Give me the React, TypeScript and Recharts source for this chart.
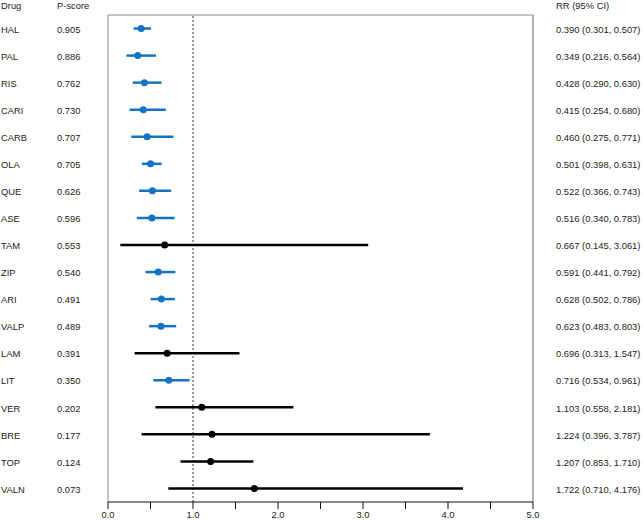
import {
  ScatterChart,
  Scatter,
  XAxis,
  YAxis,
  ErrorBar,
  ReferenceLine,
} from 'recharts'

const drugs = ['HAL', 'PAL', 'RIS', 'CARI', 'CARB', 'OLA', 'QUE', 'ASE', 'TAM', 'ZIP', 'ARI', 'VALP', 'LAM', 'LIT', 'VER', 'BRE', 'TOP', 'VALN']
const pScores = [0.905, 0.886, 0.762, 0.73, 0.707, 0.705, 0.626, 0.596, 0.553, 0.54, 0.491, 0.489, 0.391, 0.35, 0.202, 0.177, 0.124, 0.073]
const rr = [0.39, 0.349, 0.428, 0.415, 0.46, 0.501, 0.522, 0.516, 0.667, 0.591, 0.628, 0.623, 0.696, 0.716, 1.103, 1.224, 1.207, 1.722]
const ciLow = [0.301, 0.216, 0.29, 0.254, 0.275, 0.398, 0.366, 0.34, 0.145, 0.441, 0.502, 0.483, 0.313, 0.534, 0.558, 0.396, 0.853, 0.71]
const ciHigh = [0.507, 0.564, 0.63, 0.68, 0.771, 0.631, 0.743, 0.783, 3.061, 0.792, 0.786, 0.803, 1.547, 0.961, 2.181, 3.787, 1.71, 4.176]
const xTicks = [0, 0.5, 1, 1.5, 2, 2.5, 3, 3.5, 4, 4.5, 5]

const BLUE = '#1573c6'
const FONT = '"Liberation Sans", Arial, sans-serif'
const FS = 9.4

const rows = drugs.map((d, i) => ({
  idx: i,
  drug: d,
  p: pScores[i],
  rr: rr[i],
  lo: ciLow[i],
  hi: ciHigh[i],
  errX: [rr[i] - ciLow[i], ciHigh[i] - rr[i]],
}))
const sig = rows.filter((r) => r.hi < 1)
const nonSig = rows.filter((r) => r.hi >= 1)

// one tick draws the whole table row: drug, p-score, and RR (95% CI) on the right
function RowTick({ y, payload }: { y?: number; payload?: { value: number } }) {
  const r = rows[payload?.value ?? 0]
  if (!r) return null
  return (
    <g fontSize={FS} fill="#222" fontFamily={FONT}>
      <text x={1} y={y} dy="0.45em">{r.drug}</text>
      <text x={57} y={y} dy="0.45em">{r.p.toFixed(3)}</text>
      <text x={556} y={y} dy="0.45em">
        {`${r.rr.toFixed(3)} (${r.lo.toFixed(3)}, ${r.hi.toFixed(3)})`}
      </text>
    </g>
  )
}

const dot = (color: string) => (p: { cx?: number; cy?: number }) => (
  <circle cx={p.cx} cy={p.cy} r={3.5} fill={color} />
)

const head = { position: 'absolute' as const, top: 0, fontSize: FS, color: '#222', lineHeight: '11px' }

export default function App() {
  return (
    <div style={{ position: 'absolute', left: 0, top: 0, width: 643, height: 521, background: '#fff', fontFamily: FONT }}>
      <span style={{ ...head, left: 1 }}>Drug</span>
      <span style={{ ...head, left: 57 }}>P-score</span>
      <span style={{ ...head, left: 556 }}>RR (95% CI)</span>
      <ScatterChart width={643} height={521} margin={{ top: 15, right: 110, bottom: 0, left: 0 }}>
        <XAxis
          type="number"
          dataKey="rr"
          domain={[0, 5]}
          ticks={xTicks}
          interval={0}
          height={19}
          tickSize={7}
          tickMargin={2}
          stroke="#111"
          tick={{ fontSize: FS, fill: '#222', fontFamily: FONT }}
          tickFormatter={(v: number) => (Number.isInteger(v) ? v.toFixed(1) : '')}
        />
        <YAxis
          type="number"
          dataKey="idx"
          domain={[-0.5, 17.5]}
          reversed
          ticks={rows.map((r) => r.idx)}
          interval={0}
          width={108}
          tickLine={false}
          axisLine={{ stroke: '#888' }}
          tick={<RowTick />}
        />
        <ReferenceLine y={-0.5} stroke="#888" />
        <ReferenceLine x={5} stroke="#666" />
        <ReferenceLine x={1} stroke="#333" strokeDasharray="2 2" />
        <Scatter data={sig} isAnimationActive={false} shape={dot(BLUE)}>
          <ErrorBar dataKey="errX" direction="x" width={0} stroke={BLUE} strokeWidth={2.5} />
        </Scatter>
        <Scatter data={nonSig} isAnimationActive={false} shape={dot('#000')}>
          <ErrorBar dataKey="errX" direction="x" width={0} stroke="#000" strokeWidth={2.5} />
        </Scatter>
      </ScatterChart>
    </div>
  )
}
